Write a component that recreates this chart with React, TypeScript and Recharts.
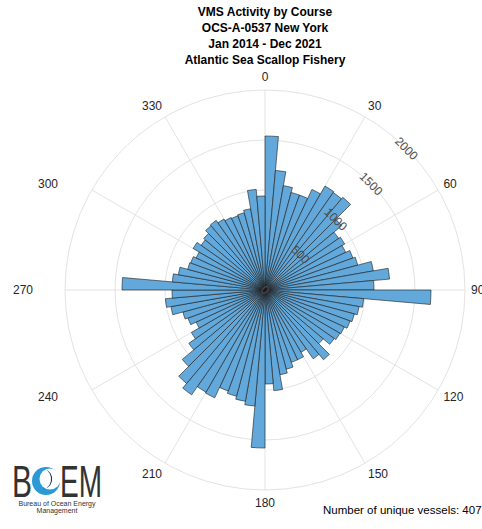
import React from 'react';
import { RadialBarChart, RadialBar, PolarGrid, PolarAngleAxis, PolarRadiusAxis } from 'recharts';

const TITLE_LINES = [
  'VMS Activity by Course',
  'OCS-A-0537 New York',
  'Jan 2014 - Dec 2021',
  'Atlantic Sea Scallop Fishery',
];

// start of each 5 degree course bin, clockwise from north
const COURSE_BINS = [
  0, 5, 10, 15, 20, 25, 30, 35, 40, 45, 50, 55, 60, 65, 70, 75, 80, 85,
  90, 95, 100, 105, 110, 115, 120, 125, 130, 135, 140, 145, 150, 155, 160, 165, 170, 175,
  180, 185, 190, 195, 200, 205, 210, 215, 220, 225, 230, 235, 240, 245, 250, 255, 260, 265,
  270, 275, 280, 285, 290, 295, 300, 305, 310, 315, 320, 325, 330, 335, 340, 345, 350, 355,
];
const BIN_WIDTH = 5;

// VMS pings per course bin
const PING_COUNTS = [
  1540, 1200, 1060, 1010, 1010, 1110, 1200, 1190, 1210, 1000, 900, 920, 890, 935, 960, 1100, 1250, 1090,
  1660, 990, 955, 925, 905, 875, 865, 845, 760, 910, 840, 720, 770, 770, 820, 860, 1010, 940,
  1580, 1165, 1130, 1100, 1075, 1190, 1180, 1280, 1220, 1080, 930, 850, 760, 820, 850, 955, 1000, 930,
  1430, 930, 880, 800, 790, 760, 830, 780, 800, 840, 850, 820, 800, 790, 800, 825, 1010, 940,
];

const COURSE_TICKS = [0, 30, 60, 90, 120, 150, 180, 210, 240, 270, 300, 330];
const COUNT_TICKS = [0, 500, 1000, 1500, 2000];
const UNIQUE_VESSELS = 407;

const FONT = '"Liberation Sans", Arial, Helvetica, sans-serif';

const data = COURSE_BINS.map((course, i) => ({ course, binEnd: course + BIN_WIDTH, pings: PING_COUNTS[i] }));

const renderCourseTick = (props: any) => {
  const { x, y, payload } = props;
  const rad = (payload.coordinate * Math.PI) / 180;
  const cos = Math.cos(rad);
  const sin = Math.sin(rad);
  const anchor = Math.abs(cos) < 0.01 ? 'middle' : cos > 0 ? 'start' : 'end';
  // west-facing labels sit further out
  const push = cos < -0.95 ? 26 : cos < -0.7 ? 33 : 0;
  return (
    <text
      x={x + cos * (push - 2)}
      y={y - sin * 5}
      textAnchor={anchor}
      dominantBaseline="central"
      fontSize={12}
      fontFamily={FONT}
      fill="#262626"
    >
      {payload.value}
    </text>
  );
};

const renderCountTick = (props: any) => {
  const { x, y, payload } = props;
  return (
    <text
      x={x}
      y={y}
      textAnchor="middle"
      dominantBaseline="central"
      transform={`rotate(45, ${x}, ${y})`}
      fontSize={12}
      fontFamily={FONT}
      fill="#4d4d4d"
    >
      {payload.value}
    </text>
  );
};

const BoemLogo = () => (
  <svg width={120} height={66} style={{ position: 'absolute', left: 0, top: 455 }}>
    <text x={12} y={42} fontSize={44} fontFamily={FONT} fill="#333" textLength={20} lengthAdjust="spacingAndGlyphs">
      B
    </text>
    <circle cx={46} cy={26} r={14} fill="#2a9ad6" />
    <circle cx={50} cy={24} r={10.5} fill="#ffffff" />
    <path d="M 44 14 A 10 10 0 1 1 40 34 A 8 9 0 1 0 44 14 Z" fill="#0d3557" />
    <text x={60} y={42} fontSize={44} fontFamily={FONT} fill="#333" textLength={42} lengthAdjust="spacingAndGlyphs">
      EM
    </text>
    <text x={57} y={51} fontSize={7} fontFamily={FONT} fill="#333" textAnchor="middle">
      Bureau of Ocean Energy
    </text>
    <text x={57} y={58} fontSize={7} fontFamily={FONT} fill="#333" textAnchor="middle">
      Management
    </text>
  </svg>
);

export default function App() {
  return (
    <div style={{ position: 'absolute', left: 0, top: 0, width: 482, height: 529, background: '#fff', overflow: 'hidden' }}>
      <div
        style={{
          position: 'absolute',
          left: 115,
          top: 4,
          width: 300,
          textAlign: 'center',
          fontFamily: FONT,
          fontWeight: 'bold',
          fontSize: 12,
          lineHeight: '16px',
          color: '#000',
        }}
      >
        {TITLE_LINES.map((line) => (
          <div key={line}>{line}</div>
        ))}
      </div>

      {/* band bars sweep one bin counter-clockwise from their tick, so the
          whole chart is turned by one bin and the course axis domain follows */}
      <RadialBarChart
        width={482}
        height={529}
        data={data}
        layout="centric"
        cx={265}
        cy={290}
        innerRadius={0}
        outerRadius={200}
        startAngle={85}
        endAngle={-275}
        barCategoryGap={0}
        margin={{ top: 0, right: 0, bottom: 0, left: 0 }}
        style={{ position: 'absolute', left: 0, top: 0 }}
      >
        <PolarGrid gridType="circle" angleAxisId="deg" stroke="#e3e3e3" strokeWidth={1} />
        <PolarAngleAxis angleAxisId="bins" dataKey="course" type="category" tick={false} tickLine={false} axisLine={false} />
        <PolarAngleAxis
          angleAxisId="deg"
          dataKey="binEnd"
          type="number"
          domain={[BIN_WIDTH, 360 + BIN_WIDTH]}
          ticks={COURSE_TICKS}
          tick={renderCourseTick}
          tickLine={false}
          axisLine={false}
        />
        <RadialBar
          angleAxisId="bins"
          dataKey="pings"
          fill="#62a8da"
          stroke="#1c1c1c"
          strokeWidth={0.6}
          isAnimationActive={false}
        />
        <PolarRadiusAxis
          type="number"
          domain={[0, 2000]}
          ticks={COUNT_TICKS}
          angle={45}
          axisLine={false}
          tickLine={false}
          tick={renderCountTick}
        />
      </RadialBarChart>

      <BoemLogo />

      <div style={{ position: 'absolute', left: 323, top: 504, fontFamily: FONT, fontSize: 11.5, color: '#000', whiteSpace: 'nowrap' }}>
        Number of unique vessels: {UNIQUE_VESSELS}
      </div>
    </div>
  );
}
